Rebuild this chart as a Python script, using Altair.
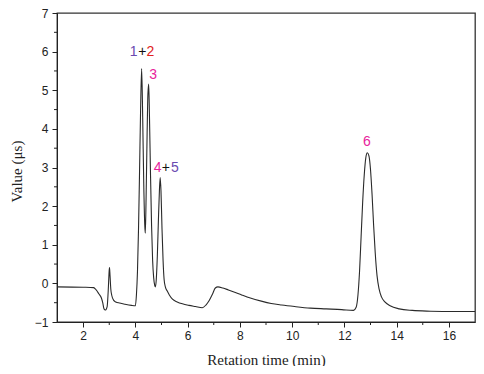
import altair as alt
import pandas as pd

# chromatogram trace (retention time in min, signal in µs)
time_min = [1.0, 2.0, 2.4, 2.5, 2.6, 2.7, 2.75, 2.8, 2.85, 2.92, 2.96, 3.0, 3.01, 3.03, 3.06, 3.1,
            3.17, 3.25, 3.4, 3.6, 3.85, 4.0, 4.04, 4.08, 4.12, 4.16, 4.2, 4.24, 4.28, 4.32, 4.36,
            4.38, 4.41, 4.45, 4.48, 4.51, 4.54, 4.58, 4.62, 4.66, 4.7, 4.74, 4.77, 4.8, 4.84, 4.88,
            4.92, 4.95, 4.98, 5.02, 5.06, 5.1, 5.15, 5.22, 5.3, 5.42, 5.6, 5.8, 6.05, 6.3, 6.56,
            6.7, 6.82, 6.95, 7.06, 7.16, 7.35, 7.56, 7.8, 8.07, 8.4, 8.82, 9.2, 9.6, 10.1, 10.7,
            11.3, 11.9, 12.35, 12.45, 12.52, 12.58, 12.64, 12.7, 12.76, 12.82, 12.88, 12.94, 13.0,
            13.06, 13.12, 13.18, 13.25, 13.33, 13.42, 13.55, 13.75, 14.1, 14.6, 15.3, 16.2, 17.0]
signal = [-0.09, -0.10, -0.11, -0.17, -0.27, -0.38, -0.50, -0.66, -0.69, -0.60, -0.20, 0.35, 0.41,
          0.20, -0.15, -0.32, -0.44, -0.48, -0.51, -0.54, -0.57, -0.58, -0.30, 0.30, 1.40, 2.90,
          4.50, 5.56, 4.30, 2.60, 1.50, 1.30, 2.20, 3.90, 4.90, 5.16, 4.30, 2.80, 1.50, 0.60, 0.15,
          -0.05, -0.09, 0.10, 0.70, 1.60, 2.40, 2.74, 2.40, 1.40, 0.60, 0.10, -0.10, -0.20, -0.30,
          -0.41, -0.48, -0.53, -0.57, -0.60, -0.63, -0.56, -0.45, -0.28, -0.12, -0.09, -0.12, -0.17,
          -0.23, -0.30, -0.38, -0.46, -0.52, -0.56, -0.60, -0.64, -0.66, -0.68, -0.70, -0.62, -0.30,
          0.30, 1.20, 2.10, 2.80, 3.25, 3.38, 3.30, 2.95, 2.30, 1.50, 0.80, 0.20, -0.15, -0.35,
          -0.48, -0.58, -0.66, -0.70, -0.72, -0.73, -0.73]

# peak annotations, one character each
label_text = ["1", "+", "2", "3", "4", "+", "5", "6"]
label_x = [3.93, 4.27, 4.57, 4.68, 4.85, 5.17, 5.51, 12.86]
label_y = [6.0, 6.0, 6.0, 5.39, 2.99, 2.99, 2.99, 3.65]
label_color = ["#6a4ab0", "#111111", "#e0201e", "#e81e9c", "#e81e9c", "#111111", "#6a4ab0", "#e81e9c"]

x_minor = [3, 5, 7, 9, 11, 13, 15]
y_minor = [-0.5, 0.5, 1.5, 2.5, 3.5, 4.5, 5.5, 6.5]

W, H = 418, 309

trace = pd.DataFrame({"t": time_min, "v": signal})
labels = pd.DataFrame({"t": label_x, "v": label_y, "s": label_text, "c": label_color})
xm = pd.DataFrame({"t": x_minor})
ym = pd.DataFrame({"v": y_minor})

xaxis = alt.Axis(values=list(range(2, 17, 2)), grid=False, tickSize=5, tickColor="#222",
                 domainColor="#222", labelFont="Liberation Sans", labelFontSize=12,
                 labelColor="#222", labelPadding=3, title="Retation time (min)",
                 titleFont="Liberation Serif", titleFontSize=15, titleFontWeight="normal",
                 titleColor="#222", titleY=37, titleBaseline="middle")
yaxis = alt.Axis(values=list(range(-1, 8)), grid=False, tickSize=5, tickColor="#222",
                 domainColor="#222", labelFont="Liberation Sans", labelFontSize=12,
                 labelColor="#222", labelPadding=4, title="Value (\u03bcs)",
                 titleFont="Liberation Serif", titleFontSize=15, titleFontWeight="normal",
                 titleColor="#222", titleX=-41, titleY=158, titleBaseline="middle",
                 titleAlign="center")

xs = alt.Scale(domain=[1, 17], nice=False, zero=False)
ys = alt.Scale(domain=[-1, 7], nice=False, zero=False)

line = alt.Chart(trace).mark_line(color="#2a2a2a", strokeWidth=1.1, interpolate="monotone").encode(
    x=alt.X("t:Q", scale=xs, axis=xaxis),
    y=alt.Y("v:Q", scale=ys, axis=yaxis),
)

text = alt.Chart(labels).mark_text(font="Liberation Sans", fontSize=14, baseline="middle",
                                   align="center").encode(
    x=alt.X("t:Q", scale=xs, axis=xaxis),
    y=alt.Y("v:Q", scale=ys, axis=yaxis),
    text="s:N",
    color=alt.Color("c:N", scale=None),
)

xminor = alt.Chart(xm).mark_rule(color="#222", strokeWidth=1).encode(
    x=alt.X("t:Q", scale=xs, axis=xaxis),
    y=alt.value(H), y2=alt.value(H + 3),
)
yminor = alt.Chart(ym).mark_rule(color="#222", strokeWidth=1).encode(
    y=alt.Y("v:Q", scale=ys, axis=yaxis),
    x=alt.value(0), x2=alt.value(-3),
)

chart = alt.layer(line, text, xminor, yminor).properties(
    width=W, height=H,
    padding={"left": 49, "top": 5, "right": 1, "bottom": 44},
    autosize="none",
).configure_view(stroke="#333", strokeWidth=1.3)

chart.save("out.html", embed_options={"renderer": "svg", "actions": False})
